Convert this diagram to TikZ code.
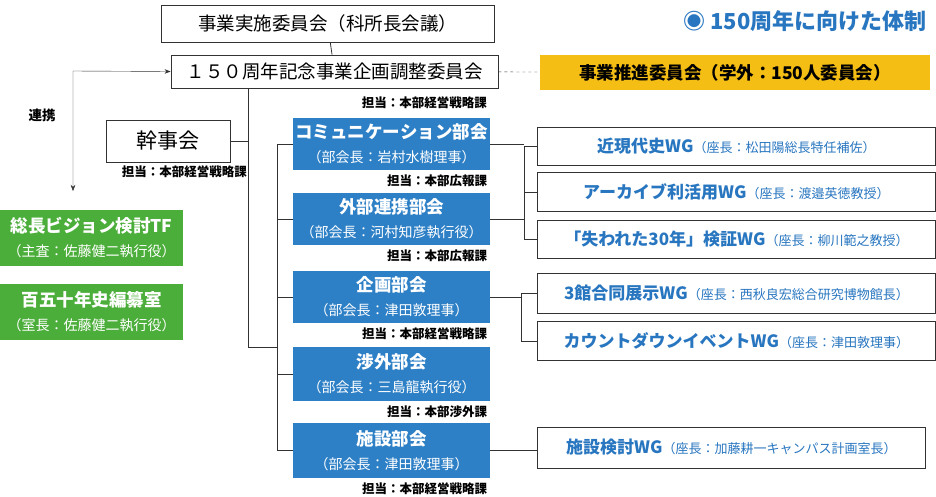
\documentclass[tikz,border=0pt]{standalone}
\usepackage{fontspec}
\setmainfont{Noto Sans CJK JP}
\usetikzlibrary{positioning, arrows.meta, calc}
\definecolor{BoxBlue}{RGB}{46,128,198}
\definecolor{TextBlue}{RGB}{40,118,192}
\definecolor{BoxGreen}{RGB}{76,174,58}
\definecolor{BoxYellow}{RGB}{245,190,20}
\definecolor{LineGray}{RGB}{50,50,50}
\tikzset{
  plain box/.style={draw=LineGray, thick, fill=white, inner sep=0pt, font=\fontsize{18.5}{22}\selectfont},
  bukai/.style={fill=BoxBlue, text=white, inner sep=0pt, minimum width=197pt, align=center, font=\bfseries\fontsize{17.5}{27}\selectfont},
  wg/.style={draw=LineGray, thick, fill=white, inner sep=0pt, text=TextBlue, font=\bfseries\fontsize{17}{20}\selectfont},
  tf/.style={fill=BoxGreen, text=white, inner sep=0pt, minimum width=183pt, minimum height=56pt, align=center, font=\bfseries\fontsize{17.5}{27}\selectfont},
  tanto/.style={anchor=east, inner sep=0pt, font=\bfseries\fontsize{12.5}{14}\selectfont},
  link/.style={LineGray, thick}
}
\newcommand{\sub}[1]{\\[-3pt]{\mdseries\fontsize{14}{16}\selectfont #1}}
\newcommand{\chairfont}{\mdseries\fontsize{13}{15}\selectfont}
\begin{document}
\begin{tikzpicture}[x=1pt, y=-1pt]
\useasboundingbox (0,0) rectangle (936,496);

% Top committees
\node[plain box, minimum width=333pt, minimum height=37pt] (jisshi) at (327.5,23.5) {事業実施委員会（科所長会議）};
\node[plain box, minimum width=327pt, minimum height=33pt] (kikaku) at (334.5,71.5) {１５０周年記念事業企画調整委員会};
\node[fill=BoxYellow, inner sep=0pt, minimum width=390pt, minimum height=35pt, font=\bfseries\fontsize{17.5}{20}\selectfont] (suishin) at (735,72.5) {事業推進委員会（学外：150人委員会）};
\node[anchor=east, text=TextBlue, font=\bfseries\fontsize{22}{26}\selectfont] (title) at (930,21) {◉ 150周年に向けた体制};
\draw[link] (jisshi) -- (kikaku);
\draw[link, dashed, thin] (kikaku) -- (suishin);

% Kanjikai and green boxes
\node[plain box, minimum width=124pt, minimum height=42pt, font=\fontsize{21}{24}\selectfont] (kanji) at (168,141) {幹事会};
\node[tanto] (kanjiT) at (247,172) {担当：本部経営戦略課};
\node[tf] (vision) at (91.5,237.5) {総長ビジョン検討TF\sub{（主査：佐藤健二執行役）}};
\node[tf] (hensan) at (91.5,311.5) {百五十年史編纂室\sub{（室長：佐藤健二執行役）}};
\node[font=\bfseries\fontsize{13.5}{15}\selectfont] (renkei) at (42,115) {連携};
\coordinate (corner) at (73,71);
\draw[link, thin, {Stealth[length=6pt]}-{Stealth[length=6pt]}] (73,191) -- (corner) -- (kikaku.west);

% Trunk
\coordinate (trunkA) at (248,347);
\coordinate (trunkB) at (277,347);
\draw[link] (kikaku.south west -| trunkA) -- (trunkA) -- (trunkB);
\draw[link] (kanji.east) -- (kanji.east -| trunkA);

% Bukai
\node[tanto] at (487,103) {担当：本部経営戦略課};
\foreach \nm/\y/\h/\ttl/\chf/\tt in {
  comm/144/52/コミュニケーション部会/部会長：岩村水樹理事/本部広報課,
  gaibu/219/52/外部連携部会/部会長：河村知彦執行役/本部広報課,
  plan/297/52/企画部会/部会長：津田敦理事/本部経営戦略課,
  shogai/374/54/渉外部会/部会長：三島龍執行役/本部渉外課,
  shisetsu/450.5/55/施設部会/部会長：津田敦理事/本部経営戦略課} {
  \node[bukai, minimum height=\h pt] (\nm) at (391.5,\y) {\ttl\sub{（\chf）}};
  \node[tanto] at ($(\nm.south east)+(-3,11)$) {担当：\tt};
}
\draw[link] (277,144) -- (277,450.5);
\foreach \nm in {comm, gaibu, plan, shogai, shisetsu}
  \draw[link] (\nm.west) -- (\nm.west -| trunkB);

% WG boxes
\foreach \nm/\y/\h/\w/\ttl/\chf in {
  kingen/146/38/398/近現代史WG/座長：松田陽総長特任補佐,
  archive/192/39/398/アーカイブ利活用WG/座長：渡邉英徳教授,
  ushinawa/239/38/398/「失われた30年」検証WG/座長：柳川範之教授,
  sankan/293/40/398/3館合同展示WG/座長：西秋良宏総合研究博物館長,
  count/341/39/398/カウントダウンイベントWG/座長：津田敦理事,
  kento/447.5/41/388/施設検討WG/座長：加藤耕一キャンパス計画室長} {
  \node[wg, minimum height=\h pt, minimum width=\w pt, anchor=west] (\nm) at (537,\y) {\ttl{\chairfont （\chf）}};
}
\draw[link] (comm.east) -- ++(34,0) coordinate (brA);
\draw[link] (gaibu.east) -- (gaibu.east -| brA);
\draw[link] (kingen.west -| brA) -- (ushinawa.west -| brA);
\foreach \nm in {kingen, archive, ushinawa}
  \draw[link] (\nm.west -| brA) -- (\nm.west);
\draw[link] (plan.east) -- ++(31,0) coordinate (brB);
\draw[link] (sankan.west -| brB) -- (count.west -| brB);
\foreach \nm in {sankan, count}
  \draw[link] (\nm.west -| brB) -- (\nm.west);
\draw[link] (shisetsu.east) -- (shisetsu.east -| kento.west);
\end{tikzpicture}
\end{document}
